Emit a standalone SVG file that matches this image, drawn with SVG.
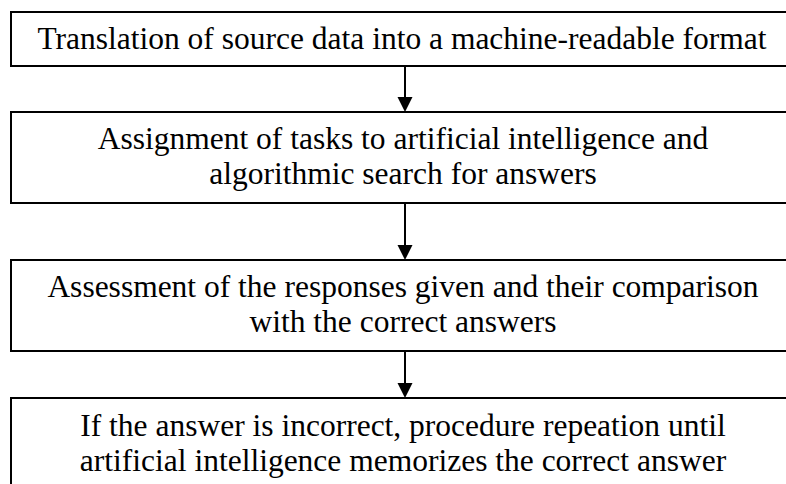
<svg xmlns="http://www.w3.org/2000/svg" width="786" height="484" viewBox="0 0 786 484">
  <style>
    .box { fill: #ffffff; stroke: #000000; stroke-width: 2; }
    .lbl { font-family: "Liberation Serif", "Times New Roman", serif; font-size: 31.5px; fill: #000000; text-anchor: middle; }
    .edge { stroke: #000000; stroke-width: 2; fill: none; }
    .head { fill: #000000; }
  </style>
  <rect width="786" height="484" fill="#ffffff"/>

  <!-- Process steps; boxes run past the right edge of the canvas -->
  <g id="node-translation">
    <rect class="box" x="11" y="12" width="790" height="54"/>
    <text class="lbl" x="402" y="49">Translation of source data into a machine-readable format</text>
  </g>

  <g id="node-assignment">
    <rect class="box" x="11" y="112" width="790" height="91"/>
    <text class="lbl" x="403" y="149">Assignment of tasks to artificial intelligence and</text>
    <text class="lbl" x="403" y="184">algorithmic search for answers</text>
  </g>

  <g id="node-assessment">
    <rect class="box" x="11" y="260" width="790" height="91"/>
    <text class="lbl" x="403" y="297">Assessment of the responses given and their comparison</text>
    <text class="lbl" x="403" y="332">with the correct answers</text>
  </g>

  <g id="node-repetition">
    <rect class="box" x="11" y="398" width="790" height="100"/>
    <text class="lbl" x="403" y="436">If the answer is incorrect, procedure repeation until</text>
    <text class="lbl" x="403" y="471">artificial intelligence memorizes the correct answer</text>
  </g>

  <!-- Downward arrows between consecutive steps -->
  <g id="connectors">
    <line class="edge" x1="405" y1="66" x2="405" y2="98"/>
    <polygon class="head" points="397.5,97 412.5,97 405,112"/>
    <line class="edge" x1="405" y1="203" x2="405" y2="246"/>
    <polygon class="head" points="397.5,245 412.5,245 405,260"/>
    <line class="edge" x1="405" y1="351" x2="405" y2="384"/>
    <polygon class="head" points="397.5,383 412.5,383 405,398"/>
  </g>
</svg>
